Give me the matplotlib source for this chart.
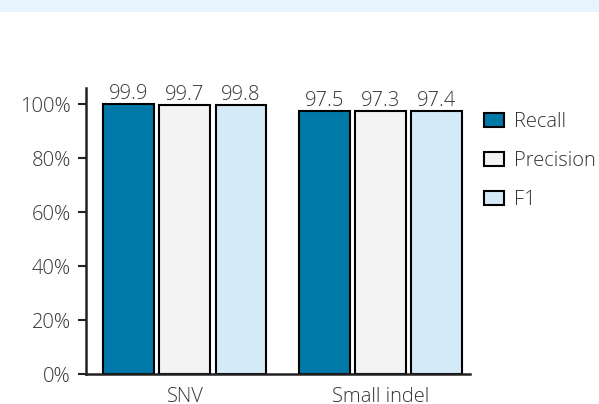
import matplotlib.pyplot as plt
import numpy as np
from matplotlib.patches import Rectangle

plt.rcParams['font.family'] = ['Open Sans', 'DejaVu Sans']
plt.rcParams['font.weight'] = 'light'

categories = ['SNV', 'Small indel']
metrics = ['Recall', 'Precision', 'F1']
recall = [99.9, 97.5]
precision = [99.7, 97.3]
f1 = [99.8, 97.4]
yticks = [0, 20, 40, 60, 80, 100]

colors = ['#0079a8', '#f3f3f3', '#d5eaf7']
text_color = '#333333'
fs = 14.5

fig = plt.figure(figsize=(5.99, 4.04), dpi=100)
# light band at the top
fig.patches.append(Rectangle((0, 1 - 12 / 404), 1, 12 / 404, transform=fig.transFigure,
                             facecolor='#e8f4fd', edgecolor='none', zorder=0))

ax = fig.add_axes([86 / 599, 1 - 374 / 404, (470 - 86) / 599, (374 - 88) / 404])

x = np.arange(len(categories))
width = 0.26
step = 0.286
for i, (name, vals) in enumerate(zip(metrics, [recall, precision, f1])):
    rects = ax.bar(x + (i - 1) * step, vals, width, color=colors[i], edgecolor='black',
                   linewidth=1.5, label=name)
    ax.bar_label(rects, labels=[f'{v:.1f}' for v in vals], padding=0, fontsize=fs,
                 color=text_color)

ax.set_xlim(-0.505, 1.455)
ax.set_ylim(0, 106)
ax.set_yticks(yticks)
ax.set_yticklabels([f'{t}%' for t in yticks], fontsize=fs, color=text_color)
ax.set_xticks(x)
ax.set_xticklabels(categories, fontsize=fs, color=text_color)
ax.tick_params(axis='x', length=0, pad=9)
ax.tick_params(axis='y', length=6, width=1.5, color='#222222', pad=5)
for s in ['top', 'right']:
    ax.spines[s].set_visible(False)
for s in ['left', 'bottom']:
    ax.spines[s].set_linewidth(1.8)
    ax.spines[s].set_color('#222222')

leg = ax.legend(loc='upper left', bbox_to_anchor=(0.99, 0.98), frameon=False, fontsize=fs,
                handlelength=1.0, handleheight=0.7, handletextpad=0.5, labelspacing=0.95,
                labelcolor=text_color)

fig.savefig('out.png', dpi=100)
